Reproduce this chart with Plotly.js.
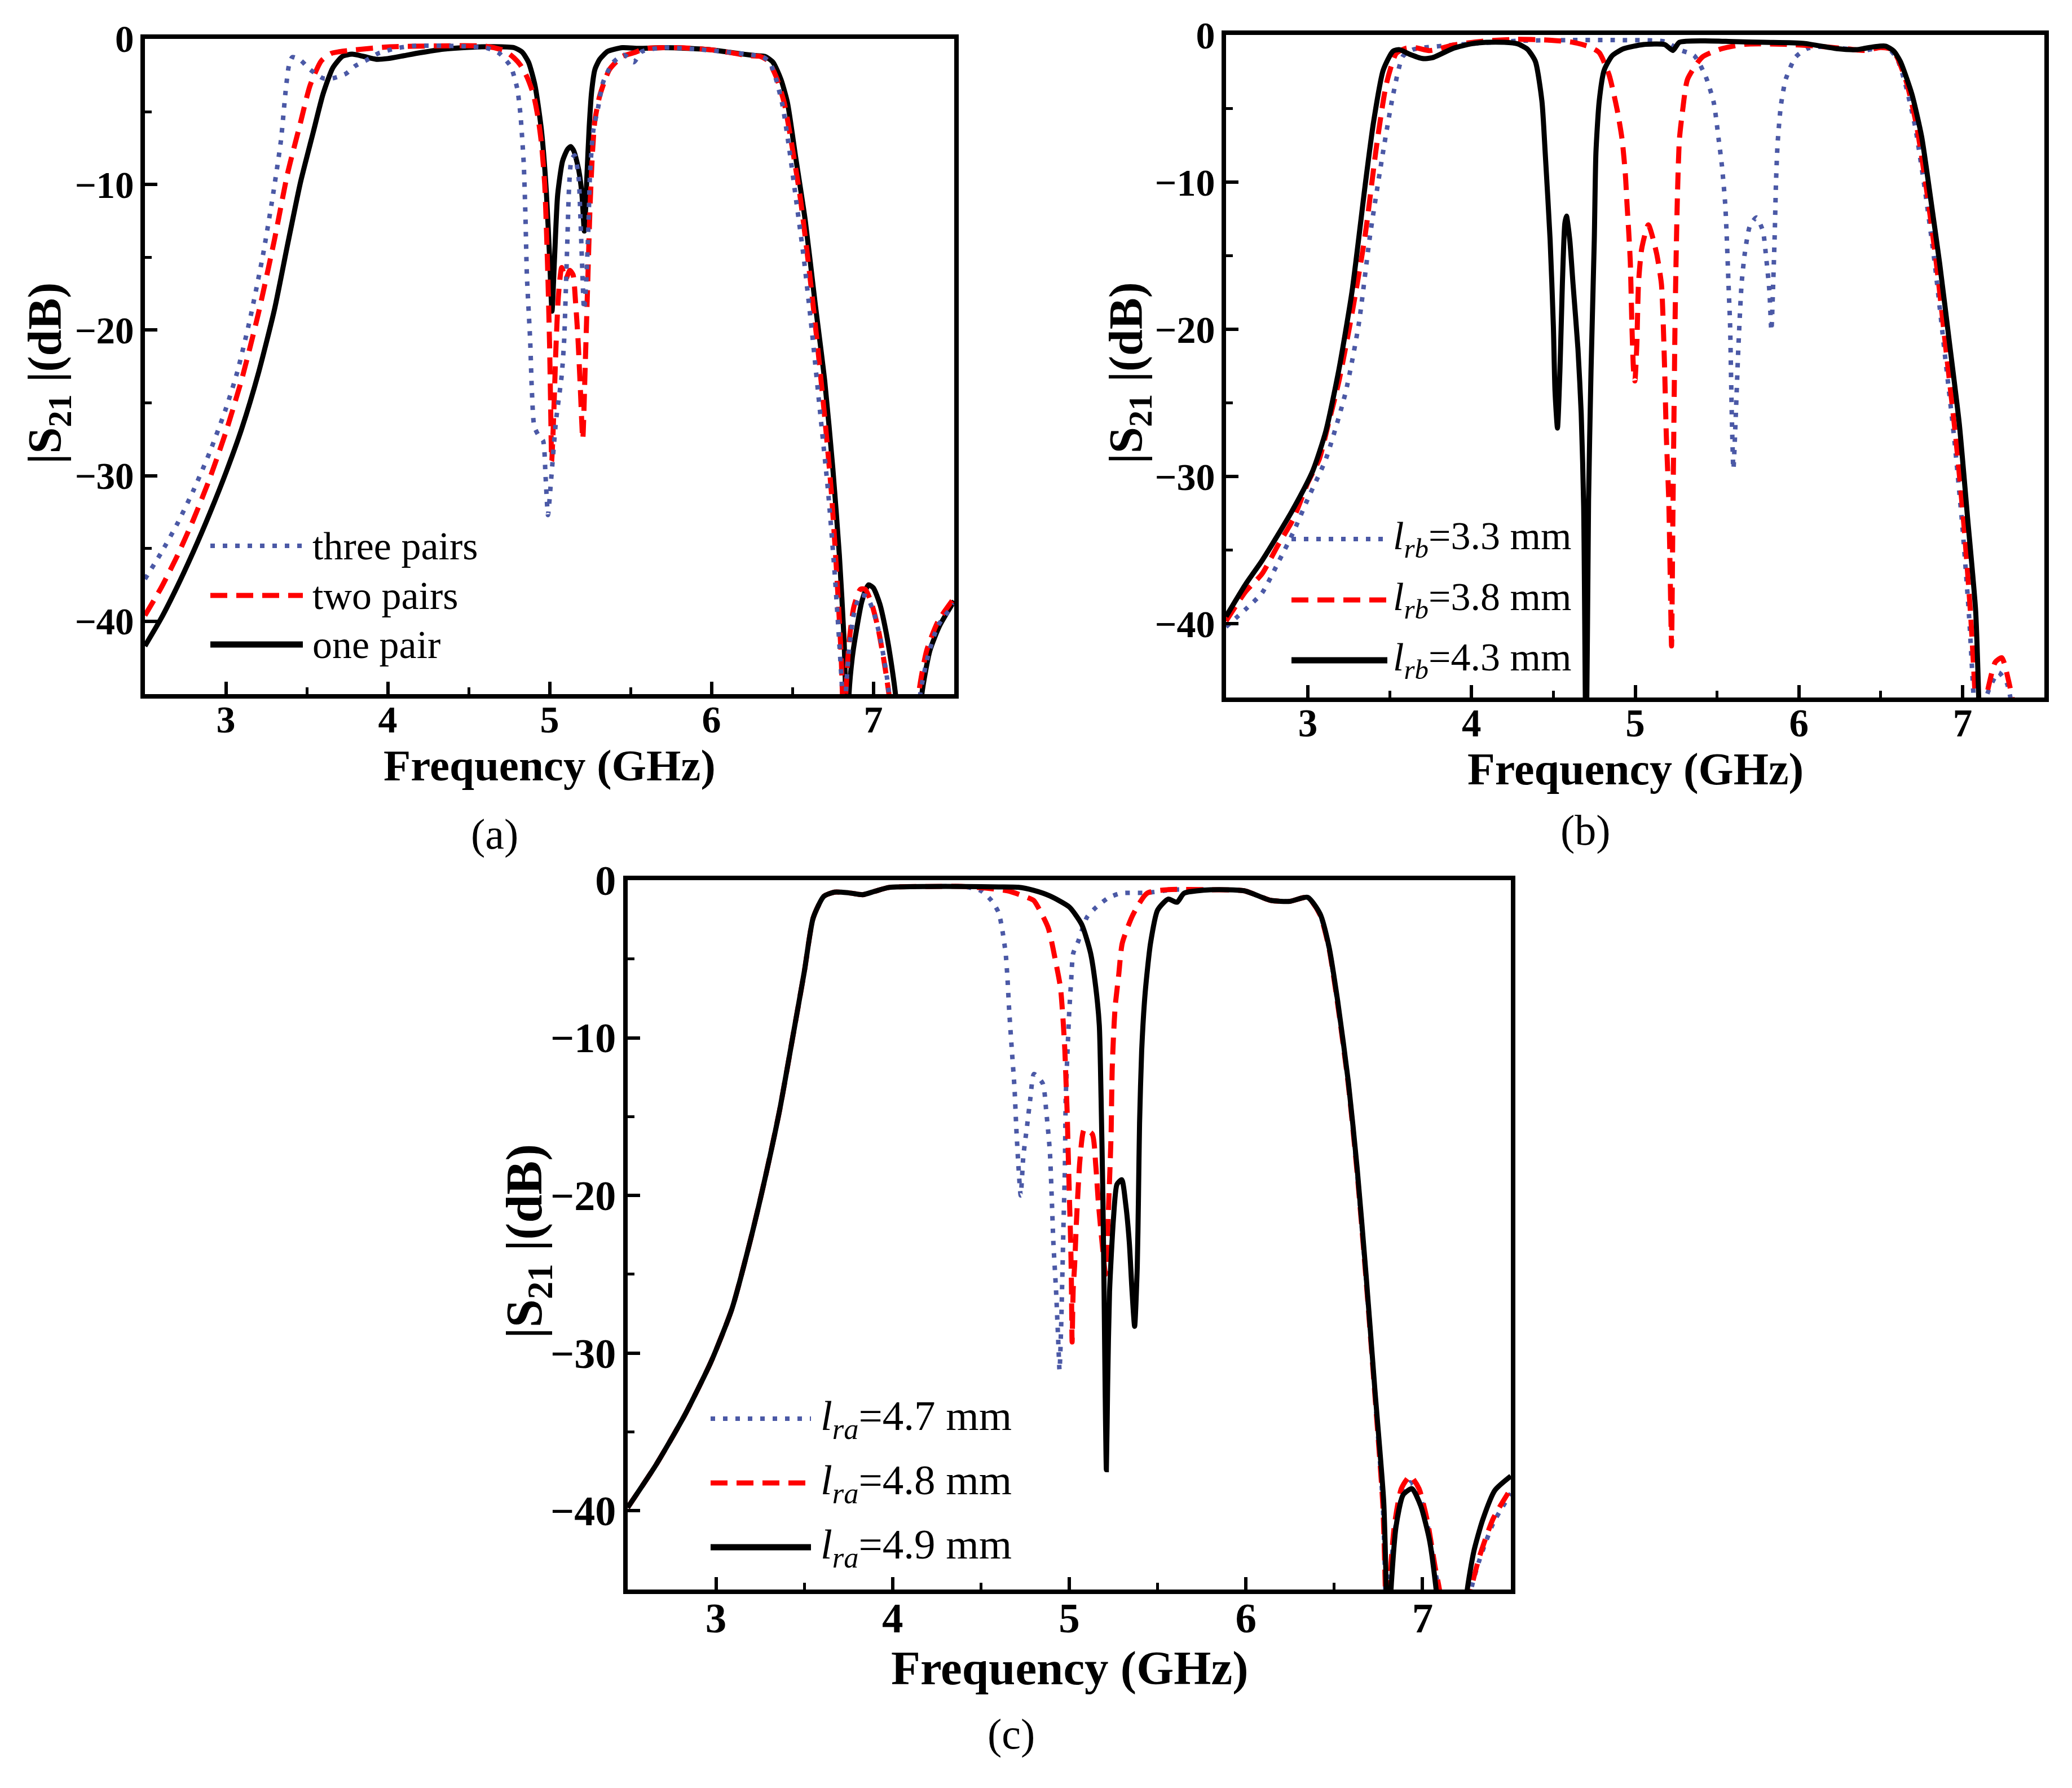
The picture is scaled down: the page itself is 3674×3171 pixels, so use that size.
<!DOCTYPE html>
<html>
<head>
<meta charset="utf-8">
<script src="https://cdn.plot.ly/plotly-3.0.1.min.js"></script>
<style>
  html, body { margin: 0; padding: 0; background: #ffffff; }
  #chart { width: 3674px; height: 3171px; }
</style>
</head>
<body>
<div id="chart"></div>
<script>
// ---- (a) number of pairs ----
const aOneF = [2.5,2.6,2.7,2.8,2.9,3.0,3.1,3.2,3.3,3.38,3.46,3.54,3.6,3.66,3.72,3.78,3.85,3.93,4.0,4.1,4.2,4.35,4.5,4.65,4.78,4.83,4.87,4.91,4.95,4.98,5.0,5.015,5.03,5.05,5.08,5.11,5.13,5.15,5.18,5.2,5.215,5.23,5.245,5.26,5.28,5.31,5.36,5.45,5.55,5.7,5.85,6.0,6.1,6.2,6.28,6.33,6.38,6.43,6.47,6.52,6.58,6.64,6.7,6.75,6.79,6.82,6.83,6.84,6.85,6.87,6.89,6.93,6.97,7.0,7.04,7.08,7.11,7.14,7.2,7.26,7.3,7.35,7.41,7.5];
const aOneDb = [-41.7,-39.8,-37.6,-35.2,-32.6,-29.8,-26.7,-23.0,-18.6,-14.2,-9.9,-6.4,-3.8,-2.0,-1.2,-1.05,-1.2,-1.4,-1.35,-1.15,-0.95,-0.7,-0.58,-0.53,-0.6,-0.9,-1.6,-3.2,-6.3,-10.5,-15,-18.7,-15.2,-10.7,-8.4,-7.6,-7.4,-7.7,-9.0,-10.7,-13.2,-9.6,-6.0,-3.6,-2.1,-1.4,-0.85,-0.6,-0.65,-0.6,-0.65,-0.75,-0.9,-1.05,-1.15,-1.2,-1.6,-2.8,-4.4,-8.1,-12.5,-18.1,-23.5,-29.5,-35.4,-41.4,-45.5,-52,-45,-42.5,-41.0,-38.6,-37.5,-37.7,-38.8,-40.8,-42.8,-45.3,-55,-52,-45,-42,-40.3,-38.6];

const aTwoF = [2.5,2.6,2.7,2.8,2.9,3.0,3.1,3.2,3.3,3.38,3.46,3.52,3.59,3.65,3.7,3.8,4.0,4.3,4.6,4.72,4.78,4.82,4.86,4.9,4.93,4.95,4.97,4.98,4.99,5.0,5.007,5.013,5.025,5.04,5.055,5.075,5.1,5.125,5.145,5.16,5.175,5.19,5.205,5.22,5.235,5.25,5.265,5.28,5.31,5.37,5.45,5.52,5.6,5.8,6.0,6.15,6.22,6.3,6.35,6.4,6.45,6.5,6.55,6.6,6.65,6.7,6.74,6.77,6.8,6.81,6.82,6.83,6.85,6.88,6.92,6.95,6.99,7.03,7.07,7.1,7.18,7.24,7.28,7.33,7.4,7.5];
const aTwoDb = [-39.6,-37.7,-35.5,-33.0,-30.2,-27.0,-23.3,-18.9,-13.8,-9.3,-5.8,-3.2,-1.5,-1.0,-0.88,-0.75,-0.55,-0.48,-0.5,-0.8,-1.3,-1.8,-2.6,-3.8,-5.5,-7.2,-10,-12.9,-16.5,-21,-25.5,-29,-26,-21,-17.6,-15.7,-16.5,-15.9,-16.2,-18,-20.5,-24,-27.5,-22.5,-17,-11.5,-7.8,-5.6,-3.9,-2.1,-1.2,-0.95,-0.65,-0.6,-0.75,-1.0,-1.15,-1.2,-1.5,-2.6,-4.4,-7.5,-11,-15.5,-20.5,-26,-31,-36,-42,-45.3,-50,-45,-41.5,-39,-37.8,-37.8,-38.8,-40.5,-43,-45.3,-55,-52,-45,-42,-40,-38.4];

const aThreeF = [2.5,2.6,2.7,2.8,2.9,3.0,3.07,3.15,3.23,3.29,3.34,3.37,3.39,3.41,3.46,3.52,3.6,3.66,3.74,3.8,3.87,3.94,4.05,4.16,4.47,4.62,4.69,4.76,4.8,4.82,4.84,4.85,4.86,4.88,4.89,4.905,4.93,4.96,4.975,4.99,5.01,5.04,5.075,5.09,5.1,5.11,5.12,5.135,5.155,5.18,5.19,5.2,5.213,5.225,5.24,5.25,5.27,5.3,5.33,5.39,5.46,5.52,5.57,5.7,5.9,6.1,6.25,6.32,6.36,6.4,6.44,6.48,6.52,6.57,6.62,6.67,6.72,6.76,6.79,6.81,6.82,6.83,6.85,6.88,6.92,6.96,7.0,7.04,7.08,7.1,7.18,7.25,7.29,7.34,7.4,7.5];
const aThreeDb = [-37.1,-35.3,-33.3,-31.0,-28.4,-25.4,-22.9,-19.2,-14.8,-10.8,-7.0,-3.5,-1.8,-1.25,-1.45,-2.1,-2.7,-2.7,-2.4,-1.85,-1.45,-1.0,-0.65,-0.48,-0.5,-0.65,-1.0,-1.9,-3.4,-5.2,-8.5,-11.8,-16.3,-20.7,-24,-26.6,-27.2,-27.6,-30,-32.7,-30.2,-26.2,-23.1,-20.7,-17.4,-13.8,-10.3,-8.3,-8.0,-9.6,-12.1,-15.2,-18.6,-17,-12.9,-9.2,-6.3,-4.7,-3.0,-1.64,-1.1,-1.6,-0.87,-0.6,-0.7,-0.9,-1.1,-1.25,-1.6,-2.8,-4.6,-7.5,-10.8,-15,-20,-25.5,-31,-36.5,-41.5,-45.3,-50,-45,-42,-39.5,-38.2,-38.3,-39.3,-41,-43.5,-45.3,-55,-52,-45,-42.3,-40.3,-38.8];

// ---- (b) l_rb ----
const bBlackF = [2.5,2.62,2.72,2.82,2.91,3.03,3.11,3.19,3.27,3.35,3.4,3.46,3.52,3.56,3.62,3.7,3.76,3.89,4.0,4.09,4.2,4.28,4.34,4.39,4.43,4.45,4.48,4.5,4.51,4.525,4.54,4.555,4.57,4.58,4.6,4.62,4.65,4.67,4.685,4.7,4.715,4.73,4.75,4.76,4.78,4.81,4.86,4.93,5.05,5.18,5.23,5.27,5.42,5.6,5.79,6.03,6.23,6.35,6.46,6.53,6.58,6.62,6.69,6.75,6.8,6.86,6.92,6.98,7.03,7.08,7.1,7.12];
const bBlackDb = [-39.5,-37.3,-35.7,-33.9,-32.2,-29.6,-26.9,-22.7,-17.4,-10.2,-6.0,-2.4,-1.1,-1.0,-1.3,-1.6,-1.55,-0.9,-0.6,-0.5,-0.5,-0.6,-0.95,-1.8,-4.5,-8.0,-13.9,-19.8,-24.2,-26.7,-22.8,-16.9,-12.8,-12.3,-13.9,-16.9,-21.3,-25.7,-32,-50,-31.6,-22.8,-13.9,-8,-4.5,-2.4,-1.4,-0.93,-0.65,-0.65,-1.05,-0.5,-0.4,-0.45,-0.5,-0.57,-0.93,-1.0,-0.8,-0.76,-1.1,-1.8,-4.0,-6.9,-10.7,-15.5,-20.9,-26.4,-32.7,-39.1,-45.5,-55];

const bRedF = [2.5,2.62,2.72,2.82,2.91,3.0,3.07,3.13,3.19,3.27,3.35,3.42,3.48,3.54,3.6,3.66,3.74,3.8,3.89,4.09,4.28,4.46,4.62,4.72,4.78,4.84,4.89,4.92,4.94,4.95,4.96,4.97,4.98,4.99,4.998,5.01,5.02,5.04,5.08,5.13,5.16,5.17,5.18,5.19,5.205,5.215,5.222,5.23,5.237,5.243,5.25,5.258,5.27,5.29,5.32,5.41,5.53,5.67,5.91,6.1,6.3,6.4,6.5,6.56,6.6,6.66,6.72,6.78,6.84,6.9,6.96,7.01,7.05,7.08,7.1,7.13,7.16,7.2,7.24,7.28,7.31,7.35];
const bRedDb = [-39.8,-37.8,-36.6,-34.6,-32.9,-30.4,-28.8,-26.2,-23.5,-18.9,-13.6,-7.5,-3.3,-1.25,-0.9,-0.87,-1.06,-0.95,-0.68,-0.4,-0.3,-0.34,-0.5,-0.8,-1.2,-2.7,-5.1,-7.1,-9.5,-11.5,-13.3,-15.4,-19.8,-22.8,-23.5,-21,-16.9,-14.5,-12.9,-14.8,-16.9,-19.2,-22.8,-27.2,-31.6,-37.5,-41.5,-33,-25.7,-19.8,-15.1,-10.9,-7.1,-5.1,-3.0,-1.5,-0.93,-0.63,-0.63,-0.75,-0.95,-1.05,-0.85,-0.95,-1.5,-3.3,-6.2,-10.5,-15.5,-21.5,-27.5,-33.5,-39.5,-45.5,-50,-46,-44.2,-42.6,-42.3,-43.8,-45.5,-52];

const bBlueF = [2.5,2.62,2.72,2.82,2.91,3.0,3.11,3.23,3.31,3.38,3.46,3.52,3.58,3.64,3.7,3.89,4.28,4.6,4.9,5.18,5.27,5.36,5.43,5.48,5.51,5.53,5.55,5.56,5.57,5.58,5.585,5.59,5.6,5.615,5.63,5.65,5.67,5.7,5.74,5.78,5.8,5.82,5.832,5.843,5.853,5.86,5.87,5.89,5.92,5.98,6.05,6.13,6.3,6.4,6.5,6.55,6.6,6.65,6.71,6.77,6.83,6.89,6.95,7.0,7.04,7.07,7.09,7.12,7.16,7.22,7.27,7.3,7.34];
const bBlueDb = [-40.2,-39.0,-37.9,-35.8,-33.8,-31.5,-28.8,-24.3,-19.7,-13.6,-7.9,-4.1,-1.45,-1.0,-0.87,-0.68,-0.4,-0.35,-0.35,-0.45,-1.0,-1.4,-2.8,-4.6,-7.1,-8.9,-11.5,-13.9,-16.9,-19.8,-22.8,-25.7,-29.5,-25.7,-21.3,-16.9,-14.8,-13.0,-12.4,-13.3,-15.1,-17.4,-20.1,-16.9,-13.3,-10.1,-7.4,-4.8,-3.0,-1.5,-0.93,-0.8,-0.95,-1.05,-0.85,-0.95,-1.6,-3.3,-6.2,-10.5,-15.5,-21.5,-27.5,-33.5,-39.5,-45.5,-50,-46,-44.5,-43.3,-44,-45.5,-52];

// ---- (c) l_ra ----  (all three share the lower skirt)
const cSkirtF = [2.5,2.66,2.82,2.97,3.09,3.2,3.28,3.36,3.44,3.5,3.55,3.61,3.67,3.75,3.83,3.9,3.98,4.2,4.4];
const cSkirtDb = [-39.8,-37.1,-34.0,-30.6,-27.2,-22.6,-18.8,-14.6,-9.6,-5.8,-2.4,-1.03,-0.76,-0.8,-0.92,-0.7,-0.46,-0.4,-0.4];

const cBlackF = [4.6,4.71,4.8,4.89,5.0,5.07,5.12,5.15,5.17,5.18,5.19,5.197,5.203,5.21,5.217,5.228,5.25,5.27,5.297,5.32,5.34,5.355,5.37,5.385,5.392,5.398,5.41,5.43,5.46,5.5,5.56,5.61,5.65,5.8,5.99,6.14,6.25,6.35,6.42,6.47,6.52,6.58,6.63,6.68,6.73,6.78,6.795,6.805,6.82,6.85,6.89,6.94,6.99,7.04,7.08,7.16,7.22,7.25,7.29,7.34,7.41,7.5];
const cBlackDb = [-0.43,-0.45,-0.65,-1.0,-1.7,-2.8,-4.6,-6.8,-9.2,-13.8,-19.9,-26.1,-32.2,-37.4,-32.2,-26.1,-21.5,-19.3,-19.0,-20.6,-23,-26,-28.3,-24.5,-19.9,-15.4,-10.8,-7.1,-4.0,-1.9,-1.2,-1.4,-0.83,-0.61,-0.67,-1.28,-1.34,-1.09,-2.14,-4.2,-7.7,-12.8,-18.3,-25,-32.3,-39.4,-45.3,-52,-45.3,-41,-39,-38.6,-39.7,-41.9,-45.3,-55,-52,-45.3,-42.6,-40.6,-38.7,-37.8];

const cRedF = [4.65,4.77,4.8,4.88,4.92,4.95,4.965,4.975,4.982,4.988,4.993,4.998,5.003,5.008,5.012,5.016,5.022,5.03,5.04,5.05,5.06,5.085,5.13,5.15,5.165,5.19,5.205,5.215,5.225,5.232,5.237,5.24,5.243,5.25,5.26,5.28,5.3,5.36,5.44,5.56,5.8,5.99,6.14,6.25,6.35,6.42,6.47,6.52,6.58,6.63,6.68,6.73,6.775,6.79,6.8,6.81,6.84,6.88,6.93,6.98,7.03,7.07,7.1,7.18,7.24,7.27,7.32,7.4,7.5];
const cRedDb = [-0.67,-1.13,-1.3,-3.0,-5.0,-6.8,-8.9,-10.8,-12.9,-14.7,-16.9,-19.0,-21,-23,-25.5,-29.3,-26,-24.5,-21.8,-19.6,-17.8,-15.8,-16.1,-18.1,-20.5,-23.5,-25,-23,-19.9,-17.8,-16.0,-13.8,-12.0,-10,-8.0,-6.0,-4.0,-2.2,-0.83,-0.6,-0.61,-0.67,-1.28,-1.34,-1.09,-2.2,-4.3,-7.9,-13,-18.6,-25.3,-32.6,-39.6,-45.3,-52,-45.3,-41,-38.6,-37.8,-38.6,-40.8,-43.5,-45.3,-55,-52,-45.3,-43,-40.5,-38.6];

const cBlueF = [4.5,4.56,4.6,4.62,4.64,4.65,4.66,4.675,4.69,4.7,4.712,4.725,4.74,4.76,4.78,4.8,4.85,4.87,4.89,4.9,4.91,4.925,4.937,4.945,4.955,4.962,4.968,4.975,4.98,4.988,5.0,5.01,5.022,5.05,5.1,5.15,5.22,5.29,5.44,5.59,5.8,5.99,6.14,6.25,6.35,6.42,6.47,6.52,6.58,6.63,6.68,6.73,6.775,6.79,6.8,6.81,6.84,6.88,6.93,6.98,7.03,7.07,7.1,7.18,7.24,7.27,7.32,7.4,7.5];
const cBlueDb = [-0.67,-1.3,-2.05,-3.1,-4.65,-6.2,-8.3,-10.8,-13.2,-15.7,-18.1,-20,-17.5,-15.7,-13.8,-12.3,-12.9,-14.7,-17.2,-19.9,-23,-26,-29.1,-31.1,-27.9,-24.5,-21.5,-18.4,-13.8,-11.4,-8.3,-6.5,-4.65,-3.9,-2.35,-1.74,-1.13,-0.83,-0.8,-0.6,-0.61,-0.67,-1.28,-1.34,-1.09,-2.2,-4.3,-7.9,-13,-18.6,-25.3,-32.6,-39.6,-45.3,-52,-45.3,-41.5,-39.2,-38.2,-38.9,-41,-43.8,-45.3,-55,-52,-45.3,-43.2,-40.8,-38.9];

const legendA = ['three pairs', 'two pairs', 'one pair'];
const legendB = ['3.3', '3.8', '4.3'];
const legendC = ['4.7', '4.8', '4.9'];

const FONT = 'Liberation Serif, Times New Roman, serif';
const W = 3674, H = 3171;
const px = x => x / W;
const py = y => 1 - y / H;

const STYLE = {
  dot:   { color: '#4b59a6', width: 8, dash: '8px,14px' },
  dash:  { color: '#ff0000', width: 9, dash: '30px,16px' },
  solid: { color: '#000000', width: 9, dash: 'solid' }
};

function curve(x, y, n, kind) {
  return {
    x: x, y: y, type: 'scatter', mode: 'lines',
    xaxis: 'x' + n, yaxis: 'y' + n, hoverinfo: 'skip',
    line: Object.assign({ shape: 'spline', smoothing: 0.6 }, STYLE[kind])
  };
}

const traces = [
  curve(aOneF, aOneDb, '', 'solid'),
  curve(aTwoF, aTwoDb, '', 'dash'),
  curve(aThreeF, aThreeDb, '', 'dot'),
  curve(bBlueF, bBlueDb, '2', 'dot'),
  curve(bRedF, bRedDb, '2', 'dash'),
  curve(bBlackF, bBlackDb, '2', 'solid'),
  curve(cSkirtF.concat(cBlueF), cSkirtDb.concat(cBlueDb), '3', 'dot'),
  curve(cSkirtF.concat(cRedF), cSkirtDb.concat(cRedDb), '3', 'dash'),
  curve(cSkirtF.concat(cBlackF), cSkirtDb.concat(cBlackDb), '3', 'solid')
];

// plot boxes in pixels: left, top, right, bottom
const boxA = [257, 69, 1692, 1231];
const boxB = [2174, 62, 3625, 1237];
const boxC = [1113, 1561, 2679, 2819];

function xAxis(box, anchor, tick) {
  return {
    domain: [px(box[0]), px(box[2])], anchor: anchor,
    range: [2.5, 7.5], tick0: 3, dtick: 1,
    ticks: 'inside', ticklen: 22, tickwidth: 6, tickcolor: '#000',
    minor: { ticks: 'inside', dtick: 0.5, ticklen: 12, tickwidth: 5, tickcolor: '#000', showgrid: false },
    showline: true, linewidth: 8, linecolor: '#000', mirror: true,
    showgrid: false, zeroline: false, fixedrange: true,
    ticklabelstandoff: -22,
    tickfont: { family: FONT, size: tick, color: '#000', weight: 'bold' }
  };
}

function yAxis(box, anchor, tick) {
  return {
    domain: [py(box[3]), py(box[1])], anchor: anchor,
    range: [-45, 0], tick0: 0, dtick: 10,
    ticks: 'inside', ticklen: 22, tickwidth: 6, tickcolor: '#000',
    minor: { ticks: 'inside', dtick: 5, ticklen: 12, tickwidth: 5, tickcolor: '#000', showgrid: false },
    showline: true, linewidth: 8, linecolor: '#000', mirror: true,
    showgrid: false, zeroline: false, fixedrange: true,
    ticklabelstandoff: -2,
    tickfont: { family: FONT, size: tick, color: '#000', weight: 'bold' }
  };
}

const shapes = [];
const annotations = [];
const kinds = ['dot', 'dash', 'solid'];

function note(text, x, y, size, extra) {
  annotations.push(Object.assign({
    xref: 'paper', yref: 'paper', x: px(x), y: py(y),
    xanchor: 'center', yanchor: 'middle', showarrow: false, text: text,
    font: { family: FONT, size: size, color: '#000' }
  }, extra || {}));
}

function legend(labels, x0, x1, tx, rows, size) {
  labels.forEach(function (txt, i) {
    const st = STYLE[kinds[i]];
    shapes.push({
      type: 'line', xref: 'paper', yref: 'paper',
      x0: px(x0), x1: px(x1), y0: py(rows[i]), y1: py(rows[i]),
      line: { color: st.color, width: kinds[i] === 'solid' ? 11 : st.width, dash: st.dash }
    });
    note(txt, tx, rows[i], size, { xanchor: 'left' });
  });
}

// axis titles, placed like the reference
function titles(box, xSize, ySize, xTitleDy, yTitleX) {
  note('<b>Frequency (GHz)</b>', (box[0] + box[2]) / 2, box[3] + xTitleDy, xSize);
  note('<b>|S<sub>21</sub> |(dB)</b>', yTitleX, (box[1] + box[3]) / 2 + 12, ySize, { textangle: -90 });
}

titles(boxA, 79, 84, 126, 86);
titles(boxB, 80, 84, 127, 2002);
titles(boxC, 85, 90, 139, 936);

legend(legendA, 373, 537, 552, [968, 1056, 1143], 70);
legend(legendB.map(v => '<i>l</i><sub><i>rb</i></sub>=' + v + ' mm'), 2290, 2460, 2468, [956, 1064, 1171], 70);
legend(legendC.map(v => '<i>l</i><sub><i>ra</i></sub>=' + v + ' mm'), 1260, 1438, 1453, [2516, 2630, 2744], 75);

note('(a)', 877, 1479, 76);
note('(b)', 2811, 1472, 76);
note('(c)', 1793, 3075, 76);

const layout = {
  width: W, height: H,
  margin: { l: 0, r: 0, t: 0, b: 0 },
  paper_bgcolor: '#ffffff', plot_bgcolor: '#ffffff',
  showlegend: false,
  xaxis: xAxis(boxA, 'y', 68),
  yaxis: yAxis(boxA, 'x', 67),
  xaxis2: xAxis(boxB, 'y2', 69),
  yaxis2: yAxis(boxB, 'x2', 68),
  xaxis3: xAxis(boxC, 'y3', 75),
  yaxis3: yAxis(boxC, 'x3', 74),
  shapes: shapes,
  annotations: annotations
};

Plotly.newPlot('chart', traces, layout, { displayModeBar: false, staticPlot: true });
</script>
</body>
</html>
